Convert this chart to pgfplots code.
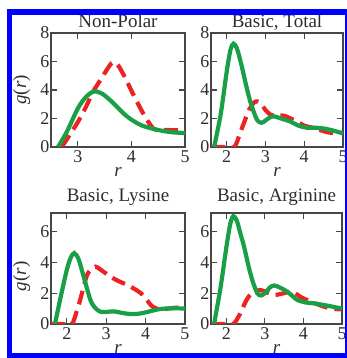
\documentclass[border=0pt]{standalone}
\usepackage{pgfplots}
\pgfplotsset{compat=1.18}
\usepackage{fontspec}
\setmainfont{Liberation Serif}
\definecolor{myg}{RGB}{25,160,70}
\definecolor{myr}{RGB}{235,35,35}
\definecolor{axc}{RGB}{70,70,70}
\definecolor{txc}{RGB}{45,45,45}
\pgfplotsset{
  gr/.style={
    scale only axis,
    axis line style={axc, line width=1.1pt},
    every tick/.style={axc, line width=1.1pt},
    major tick length=6pt,
    tick align=inside,
    xtick pos=both, ytick pos=both,
    /pgf/number format/assume math mode=true,
    xticklabel={\pgfmathprintnumber{\tick}},
    yticklabel={\pgfmathprintnumber{\tick}},
    ticklabel style={font=\fontsize{18}{18}\selectfont, text=txc},
    yticklabel style={xshift=2pt},
    title style={font=\fontsize{19}{19}\selectfont, text=txc, anchor=base, at={(0.5,1)}},
    xlabel style={font=\fontsize{19}{19}\selectfont, text=txc, at={(0.5,0)}, anchor=base, yshift=-30pt},
    ylabel style={font=\fontsize{19}{19}\selectfont, text=txc, at={(axis description cs:-0.22,0.5)}, anchor=center},
    ymin=0, xmax=5,
  },
  gline/.style={myg, line width=4.2pt, smooth, tension=0.5},
  rline/.style={myr, line width=4.2pt, smooth, tension=0.5, dash pattern=on 14pt off 7pt},
}
\begin{document}
\begin{tikzpicture}
\useasboundingbox (0pt,0pt) rectangle (347pt,358pt);
\clip (0pt,0pt) rectangle (347pt,358pt);
% Non-Polar
\begin{axis}[gr, at={(51pt,211pt)}, anchor=south west, width=134pt, height=114pt,
  xmin=2.5, ymax=8, xtick={3,4,5}, ytick={0,2,4,6,8},
  title={Non-Polar}, title style={yshift=0pt},
  xlabel={\textit{r}}, ylabel={\textit{g}(\textit{r})}]
\addplot[rline] coordinates {(2.7,0) (2.85,0.85) (3.0,1.75) (3.15,2.8) (3.29,3.9) (3.48,5.05) (3.6,5.75) (3.66,5.95) (3.74,5.8) (3.85,5.1) (3.95,4.35) (4.04,3.65) (4.22,2.36) (4.41,1.3) (4.6,1.2) (4.8,1.18) (5,1.15)};
\addplot[gline] coordinates {(2.63,0) (2.8,1.1) (3.0,2.7) (3.15,3.5) (3.3,3.9) (3.45,3.75) (3.6,3.3) (3.75,2.75) (3.9,2.2) (4.05,1.8) (4.2,1.5) (4.4,1.28) (4.6,1.12) (4.8,1.02) (5.0,0.98)};
\end{axis}
% Basic, Total
\begin{axis}[gr, at={(211pt,211pt)}, anchor=south west, width=132pt, height=114pt,
  xmin=1.6, ymax=8, xtick={2,3,4,5}, ytick={0,2,4,6,8},
  title={Basic, Total}, title style={yshift=0pt},
  xlabel={\textit{r}}]
\addplot[rline] coordinates {(1.6,0) (1.9,0) (2.2,0) (2.35,1.0) (2.45,1.7) (2.58,2.6) (2.7,3.1) (2.79,3.2) (2.9,3.0) (3.0,2.6) (3.14,2.25) (3.3,2.2) (3.48,2.2) (3.65,2.0) (3.82,1.78) (4.0,1.5) (4.25,1.33) (4.45,1.15) (4.68,1.0) (5,1.0)};
\addplot[gline] coordinates {(1.68,0) (1.85,2.3) (2.0,5.2) (2.1,6.8) (2.18,7.25) (2.27,6.9) (2.38,5.8) (2.49,4.5) (2.6,3.3) (2.71,2.4) (2.8,1.85) (2.9,1.7) (3.0,1.85) (3.1,2.05) (3.22,2.15) (3.4,2.0) (3.65,1.78) (3.85,1.5) (4.07,1.35) (4.3,1.35) (4.5,1.3) (4.75,1.15) (5,0.95)};
\end{axis}
% Basic, Lysine
\begin{axis}[gr, at={(51pt,34pt)}, anchor=south west, width=134pt, height=111pt,
  xmin=1.6, ymax=7.2, xtick={2,3,4,5}, ytick={0,2,4,6},
  title={Basic, Lysine}, title style={yshift=6pt},
  xlabel={\textit{r}}, ylabel={\textit{g}(\textit{r})},
  ylabel style={at={(axis description cs:-0.22,0.43)}}]
\addplot[rline] coordinates {(1.6,0) (1.9,0) (2.13,0) (2.25,0.8) (2.34,1.56) (2.5,3.07) (2.6,3.5) (2.73,3.72) (2.9,3.45) (3.11,3.07) (3.3,2.8) (3.54,2.53) (3.7,2.3) (3.88,2.0) (4.05,1.5) (4.18,1.12) (4.39,0.95) (4.74,1.05) (5,1.05)};
\addplot[gline] coordinates {(1.7,0) (1.85,1.8) (2.0,3.5) (2.1,4.3) (2.19,4.6) (2.3,4.2) (2.43,3.07) (2.6,1.56) (2.72,1.05) (2.85,0.8) (3.0,0.78) (3.2,0.82) (3.4,0.72) (3.6,0.65) (3.8,0.66) (3.96,0.73) (4.2,0.88) (4.39,0.98) (4.7,1.02) (5,1.0)};
\end{axis}
% Basic, Arginine
\begin{axis}[gr, at={(211pt,34pt)}, anchor=south west, width=131pt, height=111pt,
  xmin=1.6, ymax=7.2, xtick={2,3,4,5}, ytick={0,2,4,6},
  title={Basic, Arginine}, title style={yshift=6pt},
  xlabel={\textit{r}}]
\addplot[rline] coordinates {(1.6,0) (1.9,0) (2.17,0) (2.32,0.5) (2.5,1.45) (2.6,1.85) (2.7,2.1) (2.89,2.2) (3.05,2.05) (3.24,1.88) (3.5,2.0) (3.71,2.1) (3.93,1.75) (4.19,1.45) (4.45,1.2) (4.71,1.0) (5,0.95)};
\addplot[gline] coordinates {(1.68,0) (1.85,2.4) (2.0,5.0) (2.1,6.5) (2.18,7.0) (2.27,6.7) (2.36,5.9) (2.46,5.0) (2.57,3.8) (2.67,2.86) (2.8,2.0) (2.9,1.85) (3.0,2.0) (3.12,2.35) (3.24,2.5) (3.4,2.35) (3.58,2.1) (3.72,1.8) (3.84,1.56) (4.05,1.4) (4.27,1.34) (4.6,1.2) (5,1.0)};
\end{axis}
% blue frame
\draw[blue, line width=5.5pt] (9.5pt,2.25pt) rectangle (347.25pt,346pt);
\end{tikzpicture}
\end{document}
